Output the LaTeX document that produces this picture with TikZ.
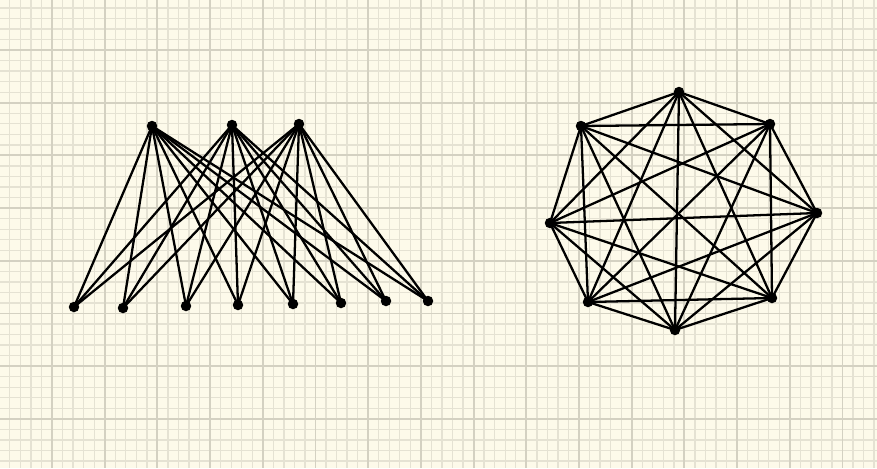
\documentclass[tikz,border=0pt]{standalone}
\usepackage{tikz}
\usetikzlibrary{positioning}

\definecolor{paper}{RGB}{253,250,234}
\definecolor{gridminor}{RGB}{229,226,211}
\definecolor{gridmajor}{RGB}{212,209,194}

\begin{document}
\begin{tikzpicture}[
    x=0.02cm, y=-0.02cm,
    vertex/.style={circle, fill=black, inner sep=0pt, minimum size=0.21cm},
    edge/.style={line width=1.3pt, line cap=round},
    minorline/.style={gridminor, line width=0.75pt},
    majorline/.style={gridmajor, line width=1.1pt}
]

% Paper background with grid
\fill[paper] (0,0) rectangle (877,468);
\useasboundingbox (0,0) rectangle (877,468);
\foreach \i in {0,...,84} {
    \draw[minorline] ({-0.7+\i*10.54},0) -- ({-0.7+\i*10.54},468);
}
\foreach \i in {0,...,45} {
    \draw[minorline] (0,{-2.7+\i*10.54}) -- (877,{-2.7+\i*10.54});
}
\foreach \i in {0,...,17} {
    \draw[majorline] ({-0.7+\i*52.7},0) -- ({-0.7+\i*52.7},468);
}
\foreach \i in {0,...,9} {
    \draw[majorline] (0,{-2.7+\i*52.7}) -- (877,{-2.7+\i*52.7});
}

% Left graph: three top vertices, eight bottom vertices
\node[vertex] (t1) at (152,126) {};
\node[vertex] (t2) at (232,125) {};
\node[vertex] (t3) at (299,124) {};

\node[vertex] (b1) at (74,307) {};
\node[vertex] (b2) at (123,308) {};
\node[vertex] (b3) at (186,306) {};
\node[vertex] (b4) at (238,305) {};
\node[vertex] (b5) at (293,304) {};
\node[vertex] (b6) at (341,303) {};
\node[vertex] (b7) at (386,301) {};
\node[vertex] (b8) at (428,301) {};

% Every top vertex joined to every bottom vertex
\foreach \t in {1,2,3} {
    \foreach \b in {1,...,8} {
        \draw[edge] (t\t.center) -- (b\b.center);
    }
}

% Right graph: eight vertices round an octagon
\node[vertex] (v1) at (679,92) {};
\node[vertex] (v2) at (770,124) {};
\node[vertex] (v3) at (817,213) {};
\node[vertex] (v4) at (772,298) {};
\node[vertex] (v5) at (675,330) {};
\node[vertex] (v6) at (588,302) {};
\node[vertex] (v7) at (550,223) {};
\node[vertex] (v8) at (581,126) {};

% Every pair of vertices joined
\foreach \i in {1,...,7} {
    \pgfmathtruncatemacro{\nexti}{\i+1}
    \foreach \j in {\nexti,...,8} {
        \draw[edge] (v\i.center) -- (v\j.center);
    }
}

\end{tikzpicture}
\end{document}
